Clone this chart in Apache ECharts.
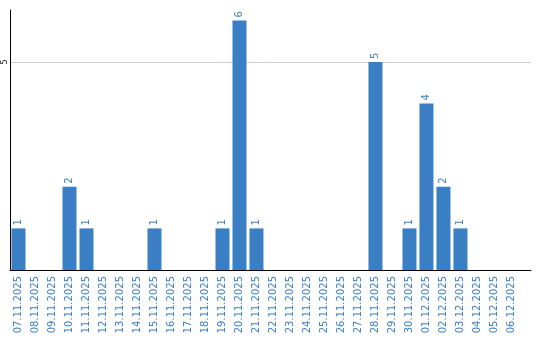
<!DOCTYPE html>
<html><head><meta charset="utf-8">
<script src="https://cdn.jsdelivr.net/npm/echarts@6/dist/echarts.min.js"></script>
<style>html,body{margin:0;padding:0;background:#fff}#c{width:540px;height:340px}</style>
</head><body><div id="c"></div>
<script>
const categories = ["07.11.2025","08.11.2025","09.11.2025","10.11.2025","11.11.2025","12.11.2025","13.11.2025","14.11.2025","15.11.2025","16.11.2025","17.11.2025","18.11.2025","19.11.2025","20.11.2025","21.11.2025","22.11.2025","23.11.2025","24.11.2025","25.11.2025","26.11.2025","27.11.2025","28.11.2025","29.11.2025","30.11.2025","01.12.2025","02.12.2025","03.12.2025","04.12.2025","05.12.2025","06.12.2025"];
const values = [1,0,0,2,1,0,0,0,1,0,0,0,1,6,1,0,0,0,0,0,0,5,0,1,4,2,1,0,0,0];
const yTicks = [5];

const blue = '#3a7ec3';
const chart = echarts.init(document.getElementById('c'));
chart.setOption({
  animation: false,
  grid: {left: 10, right: 9, top: 10, bottom: 70, outerBoundsMode: 'none', containLabel: false},
  xAxis: {
    type: 'value', min: -0.5, max: 30.15,
    axisLine: {show: true, onZero: false, lineStyle: {color: '#000', width: 1}},
    axisTick: {show: false},
    splitLine: {show: false},
    axisLabel: {
      customValues: categories.map((c, i) => i),
      formatter: v => categories[v] || '',
      rotate: 90, color: blue, fontFamily: 'DejaVu Sans', fontSize: 10, margin: 6
    }
  },
  yAxis: {
    type: 'value', min: 0, max: 6.25, interval: 5,
    axisLine: {show: true, onZero: false, lineStyle: {color: '#000', width: 1}},
    axisTick: {show: false},
    splitLine: {show: true, showMinLine: false, showMaxLine: false, lineStyle: {color: '#cccccc'}},
    axisLabel: {
      customValues: yTicks,
      rotate: 90, color: '#222', fontFamily: 'DejaVu Sans', fontSize: 8, margin: 1, lineHeight: 8
    }
  },
  series: [{
    type: 'bar',
    barWidth: 14,
    itemStyle: {color: blue},
    data: values.map((v, i) => [i, v]),
    label: {
      show: true, position: 'top', rotate: 90, align: 'left', verticalAlign: 'middle',
      distance: 3, color: blue, fontFamily: 'DejaVu Sans', fontSize: 10,
      formatter: p => p.value[1] > 0 ? String(p.value[1]) : ''
    }
  }]
});
</script></body></html>
